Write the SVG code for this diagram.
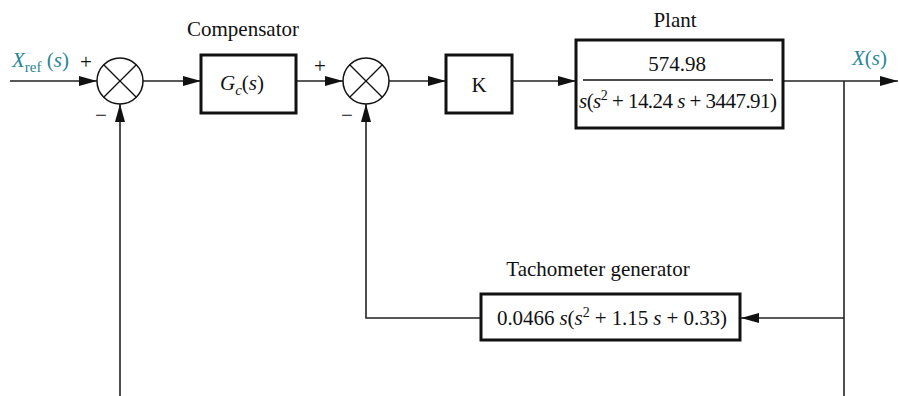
<svg xmlns="http://www.w3.org/2000/svg" width="899" height="396" viewBox="0 0 899 396">
<style>
  text { font-family: "Liberation Serif", "Times New Roman", serif; font-size: 21px; fill: #111; }
  .it { font-style: italic; }
  .sig { fill: #2a8796; }
  .box { fill: #fff; stroke: #111; stroke-width: 3; }
  .sum { fill: #fff; stroke: #111; stroke-width: 1.5; }
  .x { stroke: #111; stroke-width: 1.3; }
  .wire { fill: none; stroke: #222; stroke-width: 1.6; }
</style>
<defs>
  <marker id="arr" viewBox="0 0 18 10" refX="18" refY="5" markerWidth="18" markerHeight="10" markerUnits="userSpaceOnUse" orient="auto">
    <path d="M0,0 L18,5 L0,10 z" fill="#111"/>
  </marker>
</defs>

<g id="connectors">
  <path class="wire" d="M10,81 H97" marker-end="url(#arr)"/>
  <path class="wire" d="M143,81 H201" marker-end="url(#arr)"/>
  <path class="wire" d="M296,81 H343" marker-end="url(#arr)"/>
  <path class="wire" d="M389,81 H446" marker-end="url(#arr)"/>
  <path class="wire" d="M512,81 H576" marker-end="url(#arr)"/>
  <path class="wire" d="M783,81 H898" marker-end="url(#arr)"/>
  <path class="wire" d="M844,81 V396"/>
  <path class="wire" d="M844,318 H741" marker-end="url(#arr)"/>
  <path class="wire" d="M481,318 H366 V104" marker-end="url(#arr)"/>
  <path class="wire" d="M120,396 V104" marker-end="url(#arr)"/>
</g>

<g id="input-label">
  <text x="12" y="67" class="sig"><tspan class="it">X</tspan><tspan font-size="15" dy="5">ref</tspan><tspan dy="-5"> (</tspan><tspan class="it">s</tspan>)</text>
</g>

<g id="sum1">
  <circle class="sum" cx="120" cy="81" r="23"/>
  <line class="x" x1="103.7" y1="64.7" x2="136.3" y2="97.3"/>
  <line class="x" x1="136.3" y1="64.7" x2="103.7" y2="97.3"/>
  <text x="86" y="69" font-size="18" text-anchor="middle">+</text>
  <text x="101" y="122" font-size="18" text-anchor="middle">−</text>
</g>

<g id="compensator">
  <text x="243" y="36" text-anchor="middle">Compensator</text>
  <rect class="box" x="201" y="55" width="95" height="58"/>
  <text x="242" y="90" text-anchor="middle"><tspan class="it">G</tspan><tspan class="it" font-size="15" dy="5">c</tspan><tspan dy="-5">(</tspan><tspan class="it">s</tspan>)</text>
</g>

<g id="sum2">
  <circle class="sum" cx="366" cy="81" r="23"/>
  <line class="x" x1="349.7" y1="64.7" x2="382.3" y2="97.3"/>
  <line class="x" x1="382.3" y1="64.7" x2="349.7" y2="97.3"/>
  <text x="320" y="73" font-size="18" text-anchor="middle">+</text>
  <text x="347" y="122" font-size="18" text-anchor="middle">−</text>
</g>

<g id="gain-k">
  <rect class="box" x="446" y="55" width="66" height="58"/>
  <text x="479" y="92" text-anchor="middle">K</text>
</g>

<g id="plant">
  <text x="675" y="27" text-anchor="middle">Plant</text>
  <rect class="box" x="576" y="40" width="207" height="88"/>
  <line x1="583" y1="80" x2="773" y2="80" stroke="#111" stroke-width="1.6"/>
  <text x="677" y="71" text-anchor="middle">574.98</text>
  <text x="579" y="108" textLength="198" lengthAdjust="spacing"><tspan class="it">s</tspan>(<tspan class="it">s</tspan><tspan font-size="14" dy="-8">2</tspan><tspan dy="8"> + 14.24 </tspan><tspan class="it">s</tspan> + 3447.91)</text>
</g>

<g id="output-label">
  <text x="852" y="65" class="sig"><tspan class="it">X</tspan>(<tspan class="it">s</tspan>)</text>
</g>

<g id="tachometer">
  <text x="598" y="276" text-anchor="middle">Tachometer generator</text>
  <rect class="box" x="481" y="294" width="259" height="46"/>
  <text x="497" y="325" textLength="230" lengthAdjust="spacing">0.0466 <tspan class="it">s</tspan>(<tspan class="it">s</tspan><tspan font-size="14" dy="-8">2</tspan><tspan dy="8"> + 1.15 </tspan><tspan class="it">s</tspan> + 0.33)</text>
</g>
</svg>
